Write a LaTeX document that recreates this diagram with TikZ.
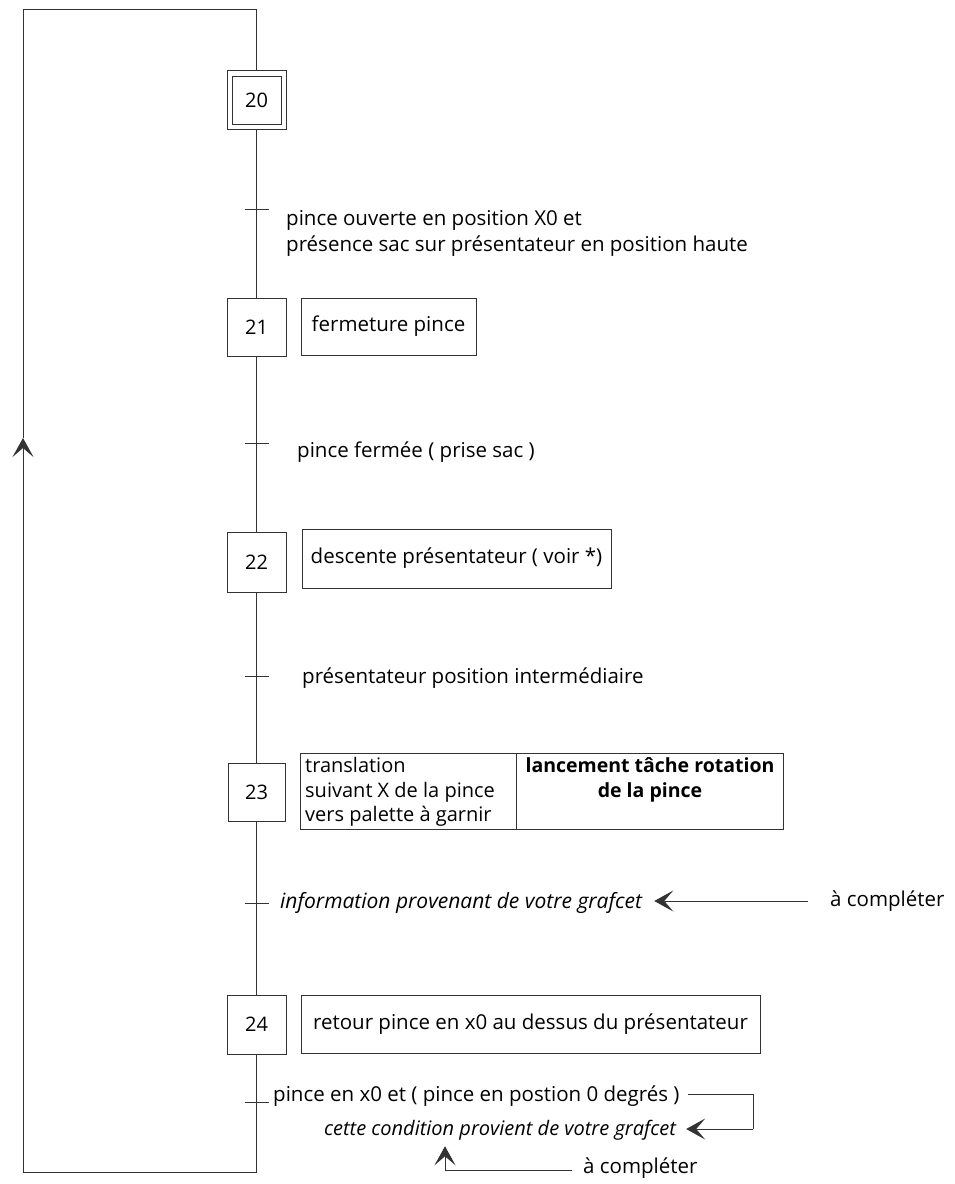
\documentclass[tikz,border=0pt]{standalone}
\usepackage{fontspec}
\setmainfont{Open Sans}
\usetikzlibrary{arrows.meta}
\begin{document}
\begin{tikzpicture}[x=1pt,y=-1pt,
  every node/.style={font=\fontsize{20.5}{26}\selectfont, text=black, inner sep=0pt},
  ln/.style={draw=black!80, line width=0.9pt},
  stepbox/.style={ln, minimum width=59pt, minimum height=59pt, font=\fontsize{20}{24}\selectfont},
  actbox/.style={ln, minimum height=58pt},
  tick/.style={ln},
  arr/.style={ln, -{Stealth[length=19pt,width=21pt,inset=9pt]}},
  itl/.style={font=\fontsize{21}{26}\selectfont\itshape},
  itls/.style={font=\fontsize{20}{22}\selectfont\itshape}
]
\useasboundingbox (0,0) rectangle (954,1184);

% steps
\node[stepbox] (s20) at (256.5,99.5) {};
\node[ln, minimum width=49pt, minimum height=48pt, font=\fontsize{20}{24}\selectfont] (s20i) at (256.5,100) {20};
\node[stepbox, minimum height=58pt] (s21) at (256.5,327) {21};
\node[stepbox, minimum height=60pt] (s22) at (256.5,562) {22};
\node[stepbox, minimum width=57pt, minimum height=58pt] (s23) at (256.5,792) {23};
\node[stepbox] (s24) at (256.5,1024.5) {24};

% actions
\node[actbox, minimum width=175pt, minimum height=57pt] (a21) at (388.5,326.5) {fermeture pince};
\node[actbox, minimum width=309pt, minimum height=59pt] (a22) at (456.5,558.5) {descente présentateur ( voir *)};
\node[ln, minimum width=216pt, minimum height=76pt] (a23l) at (408,791) {};
\node[anchor=west, align=left, font=\fontsize{20}{24.5}\selectfont] (a23lt) at (305,792) {translation\\suivant X de la pince\\vers palette à garnir};
\node[ln, minimum width=267pt, minimum height=76pt] (a23r) at (649.5,791) {};
\node[align=center, font=\fontsize{19.5}{24.5}\selectfont\bfseries] (a23rt) at (650,780) {lancement tâche rotation\\de la pince};
\node[actbox, minimum width=459pt, minimum height=58pt] (a24) at (530.5,1024) {retour pince en x0 au dessus du présentateur};

% transitions (coordinates on the line)
\coordinate (t1) at (256.5,209);
\coordinate (t2) at (256.5,443);
\coordinate (t3) at (256.5,676);
\coordinate (t4) at (256.5,903);
\coordinate (t5) at (256.5,1102);
\foreach \t in {t1,t2,t3,t4,t5}{\draw[tick] ([xshift=-12pt]\t) -- ([xshift=12pt]\t);}

% vertical links
\draw[ln] (s20) -- (s21);
\draw[ln] (s21) -- (s22);
\draw[ln] (s22) -- (s23);
\draw[ln] (s23) -- (s24);

% loop back
\coordinate (b1) at (256.5,1172);
\coordinate (b2) at (23,1172);
\coordinate (la) at (23,438);
\coordinate (tl) at (23,9);
\coordinate (tr) at (256.5,9);
\draw[ln] (s24) -- (b1) -- (b2);
\draw[arr] (b2) -- (la);
\draw[ln] (la) -- (tl) -- (tr) -- (s20);

% transition labels
\node[anchor=west, align=left] (r1) at (286,233) {pince ouverte en position X0 et\\présence sac sur présentateur en position haute};
\node[anchor=west] (r2) at (297,452) {pince fermée ( prise sac )};
\node[anchor=west] (r3) at (302,678) {présentateur position intermédiaire};
\node[anchor=west, itl] (r4) at (280,903) {information provenant de votre grafcet};
\node[anchor=west] (r5) at (273,1096) {pince en x0 et ( pince en postion 0 degrés )};

% annotations
\node[anchor=west] (ac1) at (830,901) {à compléter};
\draw[arr, shorten <=22pt, shorten >=12pt] (ac1.west) -- (r4.east |- ac1.west);

\node[itls] (cond) at (500,1130) {cette condition provient de votre grafcet};
\coordinate (c1) at (753,1094);
\coordinate (c2) at (753,1129);
\draw[ln, shorten <=8pt] (r5.east |- c1) -- (c1) -- (c2);
\draw[arr, shorten >=10pt] (c2) -- (cond.east |- c2);

\node[anchor=west] (ac2) at (583,1168) {à compléter};
\coordinate (c3) at (445,1170);
\draw[ln, shorten <=11pt] (ac2.west |- c3) -- (c3);
\draw[arr, shorten >=6pt] (c3) -- (cond.south -| c3);
\end{tikzpicture}
\end{document}
